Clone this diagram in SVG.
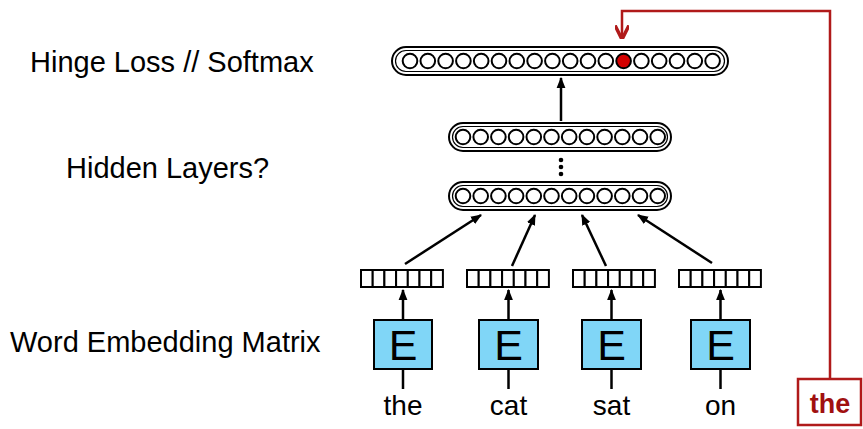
<svg xmlns="http://www.w3.org/2000/svg" width="863" height="429" viewBox="0 0 863 429">
<defs>
<marker id="ahr" viewBox="0 0 10 10" refX="9" refY="5" markerWidth="14" markerHeight="14" orient="auto" markerUnits="userSpaceOnUse">
<path d="M0,0 L10,5 L0,10" fill="none" stroke="#b01a1a" stroke-width="2.5"/>
</marker>
<marker id="ahb" viewBox="0 0 10 10" refX="9" refY="5" markerWidth="11" markerHeight="11" orient="auto" markerUnits="userSpaceOnUse">
<path d="M0,1 L10,5 L0,9 z" fill="#000"/>
</marker>
</defs>
<style>
.lbl{font-family:"Liberation Sans",Arial,sans-serif;font-size:29px;fill:#000}
.word{font-family:"Liberation Sans",Arial,sans-serif;font-size:28px;fill:#000;text-anchor:middle}
.E{font-family:"Liberation Sans",Arial,sans-serif;font-size:43px;fill:#000;text-anchor:middle}
.pill{fill:#fff;stroke:#000;stroke-width:2}
.pillin{fill:none;stroke:#000;stroke-width:1.2}
.neu{fill:#fff;stroke:#000;stroke-width:2}
.cell{fill:#fff;stroke:#000;stroke-width:2}
.ebox{fill:#80d6f7;stroke:#000;stroke-width:2}
.conn{stroke:#000;stroke-width:2.5;fill:none}
.red{stroke:#b01a1a;stroke-width:2.5;fill:none}
</style>
<rect width="863" height="429" fill="#fff"/>

<g id="labels">
<text class="lbl" x="30" y="72">Hinge Loss // Softmax</text>
<text class="lbl" x="66" y="178">Hidden Layers?</text>
<text class="lbl" x="10" y="352">Word Embedding Matrix</text>
</g>

<g id="softmax">
<rect class="pill" x="392" y="47" width="336" height="28" rx="14"/>
<rect class="pillin" x="395.5" y="50.5" width="329" height="21" rx="10.5"/>
<g id="softmax-units">
<circle class="neu" cx="410" cy="61" r="7.3"/><circle class="neu" cx="427.8" cy="61" r="7.3"/><circle class="neu" cx="445.6" cy="61" r="7.3"/><circle class="neu" cx="463.4" cy="61" r="7.3"/><circle class="neu" cx="481.2" cy="61" r="7.3"/><circle class="neu" cx="499" cy="61" r="7.3"/><circle class="neu" cx="516.8" cy="61" r="7.3"/><circle class="neu" cx="534.6" cy="61" r="7.3"/><circle class="neu" cx="552.4" cy="61" r="7.3"/><circle class="neu" cx="570.2" cy="61" r="7.3"/><circle class="neu" cx="588" cy="61" r="7.3"/><circle class="neu" cx="605.8" cy="61" r="7.3"/><circle cx="623.6" cy="61" r="7.3" fill="#d40000" stroke="#000" stroke-width="2"/><circle class="neu" cx="641.4" cy="61" r="7.3"/><circle class="neu" cx="659.2" cy="61" r="7.3"/><circle class="neu" cx="677" cy="61" r="7.3"/><circle class="neu" cx="694.8" cy="61" r="7.3"/><circle class="neu" cx="712.6" cy="61" r="7.3"/>
</g>
</g>

<g id="hidden2">
<rect class="pill" x="449" y="123" width="222" height="28" rx="14"/>
<rect class="pillin" x="452.5" y="126.5" width="215" height="21" rx="10.5"/>
<circle class="neu" cx="463" cy="137" r="7.3"/><circle class="neu" cx="480.7" cy="137" r="7.3"/><circle class="neu" cx="498.4" cy="137" r="7.3"/><circle class="neu" cx="516.1" cy="137" r="7.3"/><circle class="neu" cx="533.8" cy="137" r="7.3"/><circle class="neu" cx="551.5" cy="137" r="7.3"/><circle class="neu" cx="569.2" cy="137" r="7.3"/><circle class="neu" cx="586.9" cy="137" r="7.3"/><circle class="neu" cx="604.6" cy="137" r="7.3"/><circle class="neu" cx="622.3" cy="137" r="7.3"/><circle class="neu" cx="640" cy="137" r="7.3"/><circle class="neu" cx="657.7" cy="137" r="7.3"/>
</g>

<g id="ellipsis">
<circle cx="561" cy="160" r="2.3" fill="#000"/>
<circle cx="561" cy="167" r="2.3" fill="#000"/>
<circle cx="561" cy="174" r="2.3" fill="#000"/>
</g>

<g id="hidden1">
<rect class="pill" x="449" y="182" width="222" height="28" rx="14"/>
<rect class="pillin" x="452.5" y="185.5" width="215" height="21" rx="10.5"/>
<circle class="neu" cx="463" cy="196" r="7.3"/><circle class="neu" cx="480.7" cy="196" r="7.3"/><circle class="neu" cx="498.4" cy="196" r="7.3"/><circle class="neu" cx="516.1" cy="196" r="7.3"/><circle class="neu" cx="533.8" cy="196" r="7.3"/><circle class="neu" cx="551.5" cy="196" r="7.3"/><circle class="neu" cx="569.2" cy="196" r="7.3"/><circle class="neu" cx="586.9" cy="196" r="7.3"/><circle class="neu" cx="604.6" cy="196" r="7.3"/><circle class="neu" cx="622.3" cy="196" r="7.3"/><circle class="neu" cx="640" cy="196" r="7.3"/><circle class="neu" cx="657.7" cy="196" r="7.3"/>
</g>

<g id="vec1">
<rect class="cell" x="361" y="270" width="11.7" height="17"/><rect class="cell" x="372.7" y="270" width="11.7" height="17"/><rect class="cell" x="384.4" y="270" width="11.7" height="17"/><rect class="cell" x="396.1" y="270" width="11.7" height="17"/><rect class="cell" x="407.8" y="270" width="11.7" height="17"/><rect class="cell" x="419.5" y="270" width="11.7" height="17"/><rect class="cell" x="431.2" y="270" width="11.7" height="17"/>
</g>
<g id="vec2">
<rect class="cell" x="467" y="270" width="11.7" height="17"/><rect class="cell" x="478.7" y="270" width="11.7" height="17"/><rect class="cell" x="490.4" y="270" width="11.7" height="17"/><rect class="cell" x="502.1" y="270" width="11.7" height="17"/><rect class="cell" x="513.8" y="270" width="11.7" height="17"/><rect class="cell" x="525.5" y="270" width="11.7" height="17"/><rect class="cell" x="537.2" y="270" width="11.7" height="17"/>
</g>
<g id="vec3">
<rect class="cell" x="573" y="270" width="11.7" height="17"/><rect class="cell" x="584.7" y="270" width="11.7" height="17"/><rect class="cell" x="596.4" y="270" width="11.7" height="17"/><rect class="cell" x="608.1" y="270" width="11.7" height="17"/><rect class="cell" x="619.8" y="270" width="11.7" height="17"/><rect class="cell" x="631.5" y="270" width="11.7" height="17"/><rect class="cell" x="643.2" y="270" width="11.7" height="17"/>
</g>
<g id="vec4">
<rect class="cell" x="679" y="270" width="11.7" height="17"/><rect class="cell" x="690.7" y="270" width="11.7" height="17"/><rect class="cell" x="702.4" y="270" width="11.7" height="17"/><rect class="cell" x="714.1" y="270" width="11.7" height="17"/><rect class="cell" x="725.8" y="270" width="11.7" height="17"/><rect class="cell" x="737.5" y="270" width="11.7" height="17"/><rect class="cell" x="749.2" y="270" width="11.7" height="17"/>
</g>

<g id="E1"><rect class="ebox" x="374" y="320" width="58" height="49"/><text class="E" x="403" y="360">E</text></g>
<g id="E2"><rect class="ebox" x="479" y="320" width="59" height="49"/><text class="E" x="508.5" y="360">E</text></g>
<g id="E3"><rect class="ebox" x="582" y="320" width="59" height="49"/><text class="E" x="611.5" y="360">E</text></g>
<g id="E4"><rect class="ebox" x="691" y="320" width="59" height="49"/><text class="E" x="720.5" y="360">E</text></g>

<g id="words">
<text class="word" x="403" y="415">the</text>
<text class="word" x="508.5" y="415">cat</text>
<text class="word" x="611.5" y="415">sat</text>
<text class="word" x="720.5" y="415">on</text>
</g>

<g id="target">
<rect x="798" y="379" width="63" height="46" fill="#fff" stroke="#b01a1a" stroke-width="2.5"/>
<text x="830" y="413" text-anchor="middle" font-family="'Liberation Sans',Arial,sans-serif" font-size="27" font-weight="bold" fill="#a01010">the</text>
</g>

<g id="connectors">
<line class="conn" x1="561" y1="121" x2="561" y2="78" marker-end="url(#ahb)"/>
<line class="conn" x1="403" y1="320" x2="403" y2="290" marker-end="url(#ahb)"/>
<line class="conn" x1="508.5" y1="320" x2="508.5" y2="290" marker-end="url(#ahb)"/>
<line class="conn" x1="611.5" y1="320" x2="611.5" y2="290" marker-end="url(#ahb)"/>
<line class="conn" x1="720.5" y1="320" x2="720.5" y2="290" marker-end="url(#ahb)"/>
<line class="conn" x1="403" y1="369" x2="403" y2="389"/>
<line class="conn" x1="508.5" y1="369" x2="508.5" y2="389"/>
<line class="conn" x1="611.5" y1="369" x2="611.5" y2="389"/>
<line class="conn" x1="720.5" y1="369" x2="720.5" y2="389"/>
<line class="conn" x1="405" y1="264" x2="481" y2="215" marker-end="url(#ahb)"/>
<line class="conn" x1="512" y1="266" x2="535" y2="215" marker-end="url(#ahb)"/>
<line class="conn" x1="606" y1="266" x2="582" y2="215" marker-end="url(#ahb)"/>
<line class="conn" x1="712" y1="263" x2="638" y2="215" marker-end="url(#ahb)"/>
<polyline class="red" points="830,379 830,11 622,11 622,38" marker-end="url(#ahr)"/>
</g>
</svg>
